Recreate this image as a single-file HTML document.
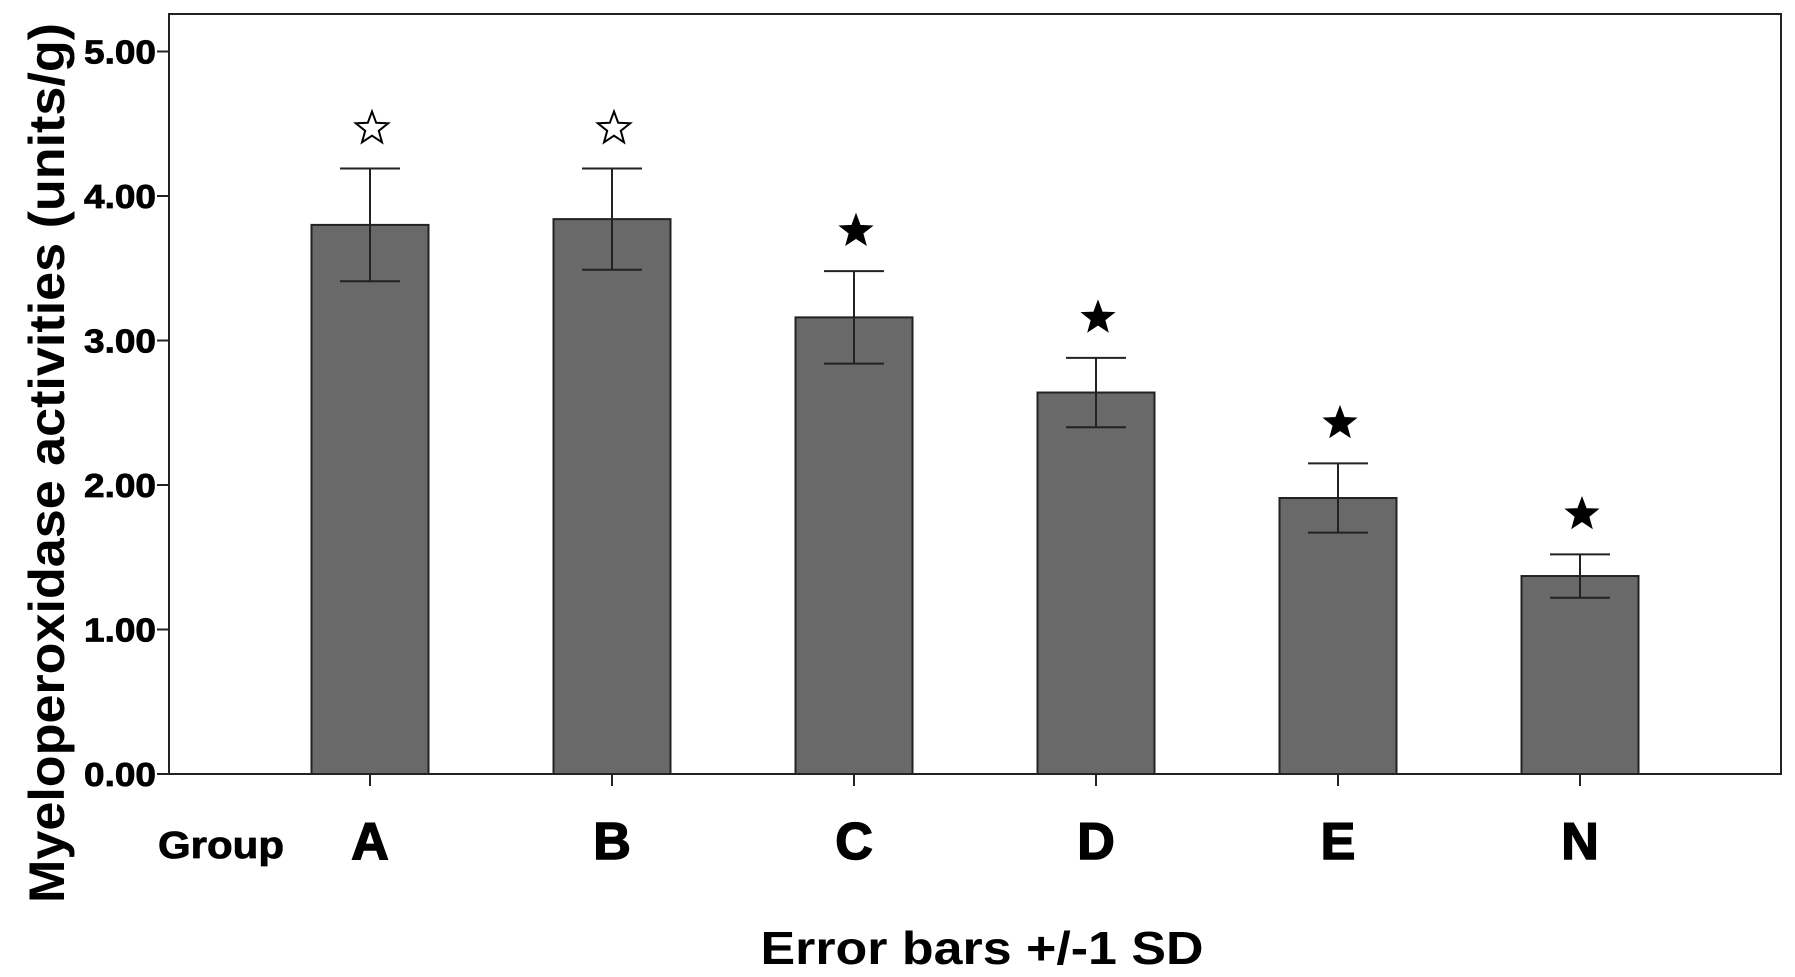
<!DOCTYPE html>
<html><head><meta charset="utf-8"><style>
html,body{margin:0;padding:0;background:#fff;}
svg{display:block;font-family:"Liberation Sans",Arial,sans-serif;}
</style></head><body>
<svg id="chart" width="1795" height="977" viewBox="0 0 1795 977">
<rect x="169" y="14" width="1612" height="760" fill="none" stroke="#222" stroke-width="2"/>
<g id="bars"></g>
<g id="yaxis"></g>
<g id="xaxis"></g>
<text x="0" y="0" transform="translate(64,463) rotate(-90)" text-anchor="middle" font-size="50" font-weight="bold" textLength="880" lengthAdjust="spacingAndGlyphs">Myeloperoxidase activities (units/g)</text>
<text x="158" y="858" font-size="38" font-weight="bold" textLength="126" lengthAdjust="spacingAndGlyphs" stroke="#000" stroke-width="0.8">Group</text>
<text x="982" y="964" text-anchor="middle" font-size="46" font-weight="bold" textLength="443" lengthAdjust="spacingAndGlyphs">Error bars +/-1 SD</text>
</svg>
<script>
const categories = ["A","B","C","D","E","N"];
const means = [3.80, 3.84, 3.16, 2.64, 1.91, 1.37];
const sds = [0.39, 0.35, 0.32, 0.24, 0.24, 0.15];
const starFilled = [false, false, true, true, true, true];
const yTicks = [0,1,2,3,4,5];
const yTickLabels = ["0.00","1.00","2.00","3.00","4.00","5.00"];

const NS = "http://www.w3.org/2000/svg";
const y0 = 774, pxPerUnit = 144.5;
function yScale(v){ return y0 - v*pxPerUnit; }
function xScale(i){ return 370 + i*242; }
function mk(tag, attrs, parent){ const e=document.createElementNS(NS,tag); for(const k in attrs) e.setAttribute(k,attrs[k]); parent.appendChild(e); return e; }
function starPts(cx,cy,R){ const r=R*0.42; let p=[]; for(let k=0;k<10;k++){ const a=-Math.PI/2+k*Math.PI/5; const rr=k%2?r:R; p.push((cx+rr*Math.cos(a)).toFixed(1)+","+(cy+rr*Math.sin(a)).toFixed(1)); } return p.join(" "); }

const yg=document.getElementById("yaxis");
yTicks.forEach((t,i)=>{
  const y=yScale(t);
  const tk=mk("line",{x1:157,x2:169,y1:y,y2:y,stroke:"#222","stroke-width":2},yg);
  
  
  const tx=mk("text",{x:156,y:y+12,"text-anchor":"end","font-size":33,"font-weight":"bold",textLength:72,lengthAdjust:"spacingAndGlyphs",stroke:"#000","stroke-width":0.8},yg);
  tx.textContent=yTickLabels[i];
  
  
});

const bg=document.getElementById("bars"), xg=document.getElementById("xaxis");
categories.forEach((c,i)=>{
  const cx=xScale(i), w=117;
  const b=mk("rect",{x:cx-w/2,y:yScale(means[i]),width:w,height:y0-yScale(means[i]),fill:"#696969",stroke:"#222","stroke-width":2},bg);
  
  
  const hi=yScale(means[i]+sds[i]), lo=yScale(means[i]-sds[i]);
  const eg=mk("g",{stroke:"#222","stroke-width":2},bg);
  
  
  mk("line",{x1:cx,x2:cx,y1:hi,y2:lo},eg);
  mk("line",{x1:cx-30,x2:cx+30,y1:hi,y2:hi},eg);
  mk("line",{x1:cx-30,x2:cx+30,y1:lo,y2:lo},eg);
  const s=mk("polygon",{points:starPts(cx+2,hi-40,17),fill:starFilled[i]?"#000":"#fff",stroke:"#000","stroke-width":starFilled[i]?1:2},bg);
  
  
  const tk=mk("line",{x1:cx,x2:cx,y1:y0,y2:y0+12,stroke:"#222","stroke-width":2},xg);
  
  
  const tx=mk("text",{x:cx,y:859,"text-anchor":"middle","font-size":52,"font-weight":"bold",stroke:"#000","stroke-width":1.5},xg);
  tx.textContent=c;
  
  
});
</script>
</body></html>
